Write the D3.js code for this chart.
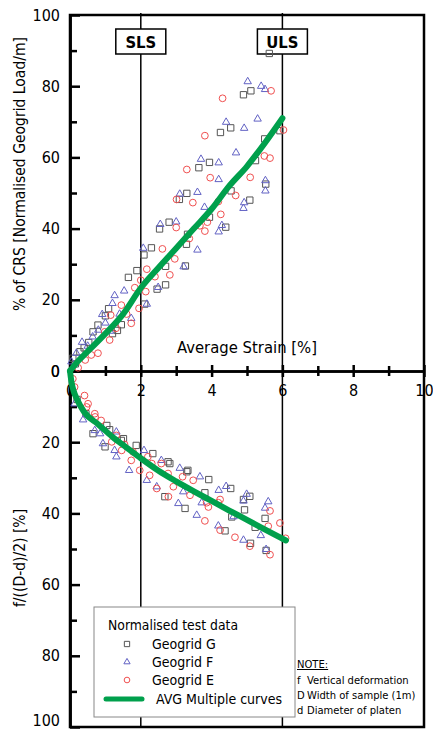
<!doctype html>
<html lang="en">
<head>
<meta charset="UTF-8">
<title>Geogrid strain</title>
<script src="https://cdn.jsdelivr.net/npm/d3@7/dist/d3.min.js"></script>
<style>
  body { margin: 0; background: #fff; }
  svg text { font-family: "DejaVu Sans Condensed", "DejaVu Sans", sans-serif; }
  svg text.note { font-family: "DejaVu Sans", sans-serif; }
</style>
</head>
<body>
<svg width="433" height="731"></svg>
<script>
// ---- data ----
const xTicks = [0, 2, 4, 6, 8, 10];
const xMinor = [1, 3, 5, 7, 9];
const yTicks = [0, 20, 40, 60, 80, 100];
const yMinor = [10, 30, 50, 70, 90];
const limits = [{ name: "SLS", x: 2 }, { name: "ULS", x: 6 }];

// upper half: % of CRS vs average strain
const gUpper = [[0.08,3.6],[0.15,2],[0.28,5.4],[0.4,6.5],[0.53,8],[0.65,11],[0.79,12.9],[1.0,15.5],[1.09,17.5],[1.2,10.5],
  [1.34,11.4],[1.45,13],[1.65,26.3],[1.89,28.2],[2.09,32.6],[2.11,18.8],[2.3,34.6],[2.46,23],[2.53,39.9],[2.7,29.4],
  [2.7,24.2],[2.8,41.8],[3.09,48.2],[3.26,29.5],[3.29,35.6],[3.3,49.9],[3.32,38.4],[3.64,57.1],[3.94,58.6],[3.94,43.2],
  [4.25,67],[4.4,40.4],[4.54,68.3],[4.55,50.6],[4.9,77.6],[5.08,48],[5.11,78.7],[5.24,59.1],[5.5,65.2],[5.53,52.5],
  [5.63,89.2],[5.93,67.5]];
const fUpper = [[0.04,2.6],[0.18,5],[0.34,8.1],[0.5,7],[0.64,9.6],[0.8,11.5],[0.91,15.9],[1.0,13.5],[1.13,11.2],[1.2,19],
  [1.26,21.2],[1.4,16],[1.53,22.5],[1.73,14.8],[2.07,34.5],[2.17,18.8],[2.49,23.5],[2.55,41.2],[3.0,41.9],[3.1,49.7],
  [3.21,29.3],[3.6,34],[3.6,50.2],[3.7,59.5],[3.8,46],[4.2,58.5],[4.2,53.8],[4.2,39.1],[4.29,40.9],[4.41,69.9],
  [4.69,61.3],[4.92,68.2],[4.92,47.3],[4.9,45.7],[5.02,81.3],[5.3,70.8],[5.4,80],[5.51,79.1],[5.52,53.5],[5.52,50.6]];
const eUpper = [[0.23,0.9],[0.43,3.1],[0.6,4.5],[0.79,5],[0.98,11],[1.12,8.7],[1.15,15.7],[1.3,12],[1.45,18.5],[1.6,16],
  [1.73,13.4],[1.83,23.4],[1.95,17.6],[2.0,25.5],[2.14,22.3],[2.17,28.6],[2.4,26.5],[2.61,34.3],[2.82,27],[2.96,31.5],
  [3.0,40.3],[3.01,48.2],[3.3,56.6],[3.37,37.2],[3.47,47.3],[3.67,40.8],[3.81,66.1],[3.81,39.3],[3.88,41.8],[3.96,54.3],
  [4.19,47.6],[4.26,44],[4.31,76.6],[4.68,49.3],[5.09,54.4],[5.49,60.4],[5.65,59.8],[5.68,78.7],[6.03,67.7]];

// lower half: f/((D-d)/2) vs average strain
const gLower = [[0.2,8],[0.45,12],[0.65,17.6],[0.99,21.3],[1.04,15.3],[1.12,16.5],[1.45,19.5],[1.51,19],[1.87,20.9],[2.34,23.2],
  [2.68,35.3],[2.77,25.5],[2.82,26],[3.25,38.6],[3.3,28.3],[3.33,27.9],[3.81,34.2],[3.92,30.5],[4.38,44.9],[4.54,33],
  [4.57,41],[4.9,36.1],[4.93,39],[5.08,35.2],[5.1,48.4],[5.23,43.9],[5.51,41.4],[5.54,50.4]];
const fLower = [[0.13,9.2],[0.37,13.7],[0.7,16.7],[0.85,17.6],[0.93,20.4],[1.26,22.3],[1.31,17.1],[1.31,24.1],[1.67,27.9],[2.09,22.3],
  [2.17,30.7],[2.45,32.5],[2.58,25.1],[3.06,37.2],[3.1,27.3],[3.2,33.9],[3.58,40.5],[3.67,29.7],[3.72,37],[4.19,43.5],
  [4.2,33.5],[4.41,32.4],[4.62,40.9],[4.9,36.5],[4.9,47.5],[4.99,34.6],[5.39,46.2],[5.51,38.5],[5.54,50.1],[5.6,36.7]];
const eLower = [[0.08,2.2],[0.13,4.5],[0.41,6.9],[0.47,10.1],[0.51,9.2],[0.7,12],[0.71,12.9],[0.88,13.9],[1.18,19.9],[1.31,18.1],
  [1.46,22.3],[1.54,20.6],[1.73,25.1],[1.78,22.7],[1.97,27.9],[2.2,24.1],[2.25,29.3],[2.31,26],[2.45,33],[2.58,26],
  [2.77,28.8],[2.78,35.3],[2.92,32.5],[3.18,29.7],[3.39,34.9],[3.48,30.7],[3.81,42.1],[3.86,37],[3.91,38.2],[4.19,37],
  [4.24,36.1],[4.24,44.7],[4.66,46.7],[5.08,49.2],[5.6,43.6],[5.65,39.3],[5.65,51.6],[5.93,42.7],[6.09,47]];

// average curves
const avgUpper = [[0,0],[0.25,3],[0.5,5.5],[1,10.5],[1.5,16],[2,23.3],[2.5,29],[3,34.5],[3.5,40],
  [4,45.5],[4.5,52],[5,57.5],[5.5,64],[6,71]];
const avgLower = [[0,0],[0.04,3],[0.1,5.5],[0.2,8],[0.4,11.5],[0.8,15],[1.2,18.5],[1.6,21.5],[2,24.5],[2.5,28],
  [3,31],[3.5,33.8],[4,36.5],[4.5,39.2],[5,41.8],[5.5,44.5],[6.1,47.6]];

const series = [
  { name: "Geogrid G", type: d3.symbolSquare, size: 40, color: "#555", upper: gUpper, lower: gLower },
  { name: "Geogrid F", type: d3.symbolTriangle, size: 24, color: "#6262c4", upper: fUpper, lower: fLower },
  { name: "Geogrid E", type: d3.symbolCircle, size: 36, color: "#f05050", upper: eUpper, lower: eLower }
];
const green = "#00a04c";

// ---- chart ----
const svg = d3.select("svg");
const x = d3.scaleLinear().domain([0, 10]).range([70, 424]);
const yU = d3.scaleLinear().domain([0, 100]).range([371, 15]);
const yL = d3.scaleLinear().domain([0, 100]).range([371, 727]);

// frame
svg.append("path")
  .attr("d", `M${x(0)},${yU(100)}H${x(10)}V${yL(100)}H${x(0)}Z`)
  .attr("fill", "none").attr("stroke", "#000").attr("stroke-width", 2.5);

// limit lines
svg.selectAll(".limit").data(limits).enter().append("line")
  .attr("x1", d => x(d.x)).attr("x2", d => x(d.x))
  .attr("y1", yU(100) - 2).attr("y2", yL(100))
  .attr("stroke", "#000").attr("stroke-width", 1.5);

// y axes
function yAxis(scale) {
  const g = svg.append("g").attr("transform", `translate(${x(0)},0)`);
  g.call(d3.axisLeft(scale).tickValues(yTicks).tickSizeInner(-10).tickSizeOuter(0).tickPadding(10));
  g.append("g").call(d3.axisLeft(scale).tickValues(yMinor).tickSizeInner(-7).tickSizeOuter(0).tickFormat(""));
  g.selectAll(".domain").attr("stroke-width", 2.5);
  g.selectAll(".tick line").attr("stroke-width", 2.5);
  g.selectAll(".tick text").attr("font-size", 16).attr("fill", "#000");
  return g;
}
yAxis(yU);
const gl = yAxis(yL);
gl.selectAll(".tick text").filter(d => d === 100).attr("dy", "-0.1em");

// x axis on zero line
const gx = svg.append("g").attr("transform", `translate(0,${yU(0)})`);
gx.call(d3.axisBottom(x).tickValues(xTicks).tickSizeInner(6).tickSizeOuter(0).tickPadding(8));
gx.append("g").call(d3.axisBottom(x).tickValues(xMinor).tickSizeInner(5).tickSizeOuter(0).tickFormat(""));
gx.selectAll(".domain").attr("stroke-width", 2.5);
gx.selectAll(".tick line").attr("stroke-width", 2.5).attr("y1", function () { return -d3.select(this).attr("y2"); });
gx.selectAll(".tick text").attr("font-size", 16).attr("fill", "#000");

svg.append("text").attr("x", 247).attr("y", 353).attr("text-anchor", "middle")
  .attr("font-size", 16.5).text("Average Strain [%]");

// axis titles
svg.append("text").attr("transform", "translate(25,174) rotate(-90)").attr("text-anchor", "middle")
  .attr("font-size", 15.5).text("% of CRS [Normalised Geogrid Load/m]");
svg.append("text").attr("transform", "translate(25,558) rotate(-90)").attr("text-anchor", "middle")
  .attr("font-size", 15.5).text("f/((D-d)/2) [%]");

// limit boxes
const lb = svg.selectAll(".lbox").data(limits).enter().append("g")
  .attr("transform", d => `translate(${x(d.x)},42)`);
lb.append("rect").attr("x", -25).attr("y", -13).attr("width", 50).attr("height", 25)
  .attr("fill", "#fff").attr("stroke", "#000").attr("stroke-width", 1.5);
lb.append("text").attr("text-anchor", "middle").attr("y", 6).attr("font-size", 16.5)
  .attr("font-weight", "bold").text(d => d.name);

// points
series.forEach(s => {
  const sym = d3.symbol().type(s.type).size(s.size);
  [[s.upper, yU], [s.lower, yL]].forEach(([pts, ys]) => {
    svg.append("g").selectAll("path").data(pts).enter().append("path")
      .attr("d", sym)
      .attr("transform", d => `translate(${x(d[0])},${ys(d[1])})`)
      .attr("fill", "none").attr("stroke", s.color).attr("stroke-width", 1);
  });
});

// average curves
[[avgUpper, yU], [avgLower, yL]].forEach(([pts, ys]) => {
  const line = d3.line().x(d => x(d[0])).y(d => ys(d[1])).curve(d3.curveMonotoneX);
  svg.append("path").attr("d", line(pts)).attr("fill", "none")
    .attr("stroke", green).attr("stroke-width", 6).attr("stroke-linecap", "round");
});

// legend
const lg = svg.append("g").attr("transform", "translate(94,607)");
lg.append("rect").attr("width", 201).attr("height", 110).attr("fill", "#fff")
  .attr("stroke", "#888").attr("stroke-width", 1);
lg.append("text").attr("x", 14).attr("y", 23).attr("font-size", 13.8).text("Normalised test data");
series.forEach((s, i) => {
  const yy = 37 + i * 18;
  lg.append("path").attr("d", d3.symbol().type(s.type).size(s.size * 0.7))
    .attr("transform", `translate(33,${yy})`)
    .attr("fill", "none").attr("stroke", s.color).attr("stroke-width", 1);
  lg.append("text").attr("x", 58).attr("y", yy + 5).attr("font-size", 14).text(s.name);
});
lg.append("line").attr("x1", 12).attr("x2", 48).attr("y1", 92).attr("y2", 92)
  .attr("stroke", green).attr("stroke-width", 5).attr("stroke-linecap", "round");
lg.append("text").attr("x", 62).attr("y", 97).attr("font-size", 14).text("AVG Multiple curves");

// note
const note = svg.append("g").attr("transform", "translate(297,668)");
note.append("text").attr("class", "note").attr("font-size", 10)
  .attr("text-decoration", "underline").text("NOTE:");
const noteRows = [["f", "Vertical deformation"], ["D", "Width of sample (1m)"], ["d", "Diameter of platen"]];
noteRows.forEach((r, i) => {
  note.append("text").attr("class", "note").attr("font-size", 10).attr("y", 16 + i * 15).text(r[0]);
  note.append("text").attr("class", "note").attr("font-size", 10).attr("x", 10).attr("y", 16 + i * 15).text(r[1]);
});
</script>
</body>
</html>
